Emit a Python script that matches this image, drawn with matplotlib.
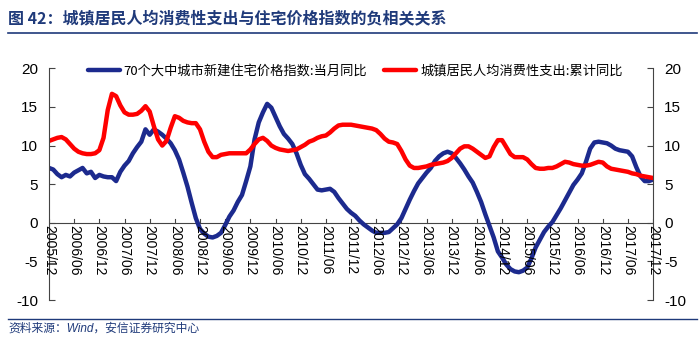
import numpy as np
import pandas as pd
from matplotlib import pyplot as plt

plt.rcParams['font.family'] = ['Liberation Sans', 'Noto Sans CJK SC', 'DejaVu Sans']

start = '2005-12'
end = '2017-12'

# 70个大中城市新建住宅价格指数:当月同比 (monthly, 2005/12 - 2017/12)
house_price = [
    7.1, 6.9, 6.3, 5.9, 6.2, 6.0, 6.5, 6.8, 7.1, 6.4, 6.6, 5.8, 6.2,
    6.0, 5.9, 5.9, 5.4, 6.6, 7.4, 8.0, 9.0, 9.8, 10.5, 12.1, 11.4,
    12.1, 11.8, 11.4, 10.9, 10.3, 9.4, 8.2, 6.5, 4.7, 2.6, 0.6, -0.8,
    -1.4, -1.8, -1.9, -1.7, -1.3, -0.3, 0.8, 1.6, 2.7, 3.6, 5.4, 7.3,
    10.8, 13.0, 14.3, 15.4, 14.9, 13.7, 12.5, 11.5, 10.9, 10.2, 9.0, 7.5,
    6.3, 5.7, 5.0, 4.3, 4.2, 4.3, 4.4, 4.0, 3.2, 2.5, 1.8, 1.3,
    0.9, 0.3, -0.2, -0.6, -1.0, -1.3, -1.3, -1.3, -1.2, -0.7, -0.2, 0.6,
    1.8, 3.0, 4.1, 5.1, 5.8, 6.5, 7.1, 8.0, 8.6, 9.0, 9.2, 9.0,
    8.4, 7.7, 6.9, 6.0, 5.2, 4.0, 2.7, 1.1, -0.4, -1.9, -3.7, -4.5,
    -5.4, -6.0, -6.3, -6.4, -6.2, -5.8, -4.6, -3.2, -2.2, -1.2, -0.5, 0.1,
    1.0, 1.9, 2.9, 3.9, 4.9, 5.6, 6.4, 7.9, 9.6, 10.4, 10.5, 10.4,
    10.3, 10.0, 9.6, 9.4, 9.3, 9.2, 8.6, 7.2, 6.0, 5.4, 5.4, 5.6,
]

# 城镇居民人均消费性支出:累计同比
consumption = [
    10.6, 10.8, 11.0, 11.1, 10.8, 10.2, 9.6, 9.2, 9.0, 8.9, 8.9, 9.0, 9.4,
    11.0, 14.6, 16.7, 16.4, 15.2, 14.3, 14.0, 14.0, 14.1, 14.5, 15.1, 14.4,
    12.5, 10.8, 10.0, 10.6, 12.3, 13.8, 13.6, 13.2, 13.0, 12.9, 12.9, 12.1,
    10.5, 9.2, 8.5, 8.5, 8.8, 8.9, 9.0, 9.0, 9.0, 9.0, 9.0, 9.5,
    10.2, 10.8, 11.0, 10.6, 10.0, 9.7, 9.5, 9.4, 9.3, 9.4, 9.5, 9.8,
    10.1, 10.5, 10.7, 11.0, 11.2, 11.3, 11.7, 12.2, 12.6, 12.7, 12.7, 12.7,
    12.6, 12.5, 12.4, 12.3, 12.2, 12.0, 11.5, 10.9, 10.5, 10.4, 10.2, 9.3,
    8.2, 7.4, 7.1, 7.1, 7.2, 7.3, 7.5, 7.6, 7.7, 7.8, 8.0, 8.4,
    9.0, 9.6, 9.9, 9.9, 9.6, 9.2, 8.8, 8.4, 8.6, 9.8, 10.7, 10.7,
    9.8, 8.9, 8.5, 8.5, 8.5, 8.2, 7.6, 7.1, 7.0, 7.0, 7.1, 7.1,
    7.3, 7.6, 7.9, 7.8, 7.6, 7.5, 7.4, 7.4, 7.5, 7.7, 7.9, 7.8,
    7.3, 7.0, 6.9, 6.8, 6.7, 6.6, 6.4, 6.3, 6.1, 6.0, 5.9, 5.8,
]

months = pd.period_range(start, end, freq='M')
x = np.arange(len(months))
tick_idx = x[::6]
tick_labels = [p.strftime('%Y/%m') for p in months[::6]]

navy = '#1c2a8e'
red = '#ff0000'
title_blue = '#1f3a7a'

fig = plt.figure(figsize=(7, 3.4), dpi=100)
ax = fig.add_axes([0.07, 0.1176, 0.863, 0.6814])

ax.plot(x, house_price, color=navy, lw=3.2, label='70个大中城市新建住宅价格指数:当月同比',
        solid_joinstyle='round', solid_capstyle='round')
ax.plot(x, consumption, color=red, lw=3.2, label='城镇居民人均消费性支出:累计同比',
        solid_joinstyle='round', solid_capstyle='round')

ax.set_xlim(0, len(months) - 1)
ax.set_ylim(-10, 20)
ax.set_yticks([-10, -5, 0, 5, 10, 15, 20])
ax.set_yticklabels(['-10', '-5', '0', '5', '10', '15', '20'], fontsize=11)
ax.tick_params(axis='y', direction='in', length=4, width=0.8, color='#444444',
               left=True, right=True, labelleft=True, labelright=True, pad=8)

for s in ['top', 'bottom']:
    ax.spines[s].set_visible(False)
for s in ['left', 'right']:
    ax.spines[s].set_color('#444444')
    ax.spines[s].set_linewidth(0.8)

# zero line acting as x axis with ticks
ax.axhline(0, color='#444444', lw=0.8, zorder=1)
ax.set_xticks([])
for t, lab in zip(tick_idx, tick_labels):
    ax.plot([t, t], [0, 0.5], color='#444444', lw=0.8, zorder=1)
    ax.text(t, -0.3, lab, rotation=-90, ha='center', va='top', fontsize=10)

leg = ax.legend(loc='center', bbox_to_anchor=(0.507, 0.99), ncol=2, frameon=False,
                handlelength=2.4, columnspacing=1.3, handletextpad=0.3,
                prop={'family': ['Noto Sans CJK SC', 'DejaVu Sans'], 'size': 9.5})

fig.text(0.012, 0.945, '图 42：城镇居民人均消费性支出与住宅价格指数的负相关关系', color=title_blue,
         fontsize=11.5, fontweight='bold', ha='left', va='center',
         family=['Noto Sans CJK SC', 'DejaVu Sans'])
fig.add_artist(plt.Line2D([0.012, 0.995], [0.903, 0.903], color=title_blue, lw=1.2))
fig.add_artist(plt.Line2D([0.012, 0.995], [0.062, 0.062], color=title_blue, lw=1.0))
fig.text(0.012, 0.033, '资料来源：Wind，安信证券研究中心', color=title_blue, fontsize=8.5,
         style='italic', ha='left', va='center',
         family=['Liberation Sans', 'Noto Sans CJK SC', 'DejaVu Sans'])

fig.savefig('out.png', dpi=100)
